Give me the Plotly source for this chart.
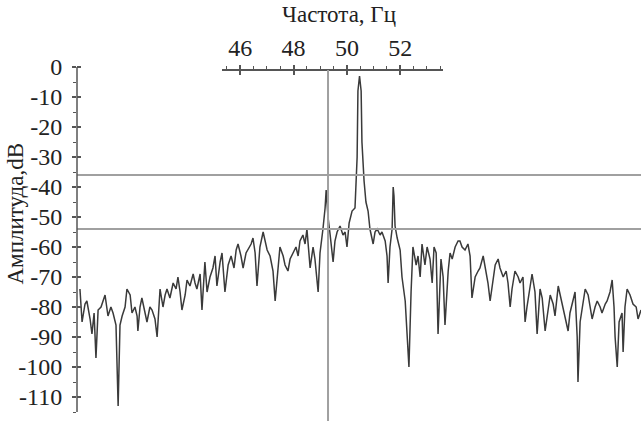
import plotly.graph_objects as go

# ---- data ----
freq_hz = [40.00, 40.08, 40.19, 40.26, 40.38, 40.45, 40.53, 40.60, 40.68, 40.79,
           40.94, 41.05, 41.16, 41.24, 41.35, 41.39, 41.43, 41.50, 41.58, 41.69,
           41.76, 41.88, 41.95, 42.06, 42.14, 42.17, 42.25, 42.32, 42.44, 42.51,
           42.62, 42.70, 42.81, 42.89, 43.00, 43.11, 43.19, 43.26, 43.37, 43.49,
           43.60, 43.67, 43.75, 43.82, 43.94, 44.01, 44.12, 44.24, 44.31, 44.38,
           44.50, 44.57, 44.68, 44.76, 44.87, 44.98, 45.06, 45.13, 45.25, 45.32,
           45.43, 45.55, 45.66, 45.77, 45.85, 45.92, 46.03, 46.11, 46.22, 46.33,
           46.41, 46.48, 46.56, 46.63, 46.74, 46.86, 46.93, 47.01, 47.12, 47.23,
           47.31, 47.42, 47.49, 47.61, 47.68, 47.79, 47.87, 47.98, 48.09, 48.17,
           48.24, 48.35, 48.43, 48.50, 48.62, 48.73, 48.80, 48.92, 48.99, 49.10,
           49.18, 49.22, 49.25, 49.29, 49.37, 49.48, 49.55, 49.63, 49.74, 49.85,
           49.93, 50.00, 50.08, 50.19, 50.30, 50.38, 50.41, 50.47, 50.53, 50.56,
           50.64, 50.71, 50.79, 50.86, 50.98, 51.05, 51.13, 51.24, 51.31, 51.43,
           51.50, 51.54, 51.61, 51.69, 51.73, 51.76, 51.80, 51.88, 51.99, 52.06,
           52.18, 52.25, 52.32, 52.40, 52.47, 52.59, 52.66, 52.74, 52.81, 52.92,
           53.00, 53.11, 53.19, 53.26, 53.34, 53.41, 53.52, 53.60, 53.67, 53.79,
           53.86, 53.94, 54.05, 54.16, 54.23, 54.31, 54.42, 54.53, 54.61, 54.68,
           54.80, 54.91, 54.98, 55.10, 55.21, 55.28, 55.36, 55.47, 55.55, 55.66,
           55.73, 55.85, 55.96, 56.03, 56.11, 56.18, 56.29, 56.41, 56.48, 56.59,
           56.67, 56.74, 56.86, 56.93, 57.04, 57.12, 57.23, 57.31, 57.42, 57.53,
           57.61, 57.72, 57.79, 57.91, 57.98, 58.09, 58.17, 58.28, 58.35, 58.47,
           58.54, 58.62, 58.65, 58.73, 58.84, 58.92, 59.03, 59.10, 59.18, 59.29,
           59.37, 59.48, 59.55, 59.67, 59.74, 59.85, 59.93, 60.00, 60.04, 60.12,
           60.19, 60.30, 60.34, 60.41, 60.49, 60.60, 60.71, 60.83, 60.90, 61.01]

amp_db = [-74, -85, -79, -78, -84, -89, -82, -97, -81, -80,
          -76, -83, -80, -82, -86, -99, -113, -86, -83, -80,
          -74, -76, -82, -80, -83, -88, -80, -77, -82, -85,
          -80, -81, -84, -90, -74, -80, -76, -74, -77, -72,
          -74, -70, -75, -81, -76, -71, -73, -69, -72, -74,
          -69, -81, -65, -75, -70, -67, -63, -73, -65, -62,
          -75, -66, -63, -67, -61, -59, -63, -67, -62, -60,
          -59, -57, -62, -73, -60, -55, -58, -61, -63, -68,
          -78, -65, -60, -63, -66, -68, -64, -62, -60, -63,
          -58, -56, -59, -54, -67, -60, -64, -75, -62, -54,
          -47, -41, -45, -50, -56, -65, -58, -55, -53, -56,
          -55, -60, -52, -48, -47, -30, -8, -3, -8, -25,
          -38, -45, -48, -54, -59, -55, -54, -56, -55, -58,
          -63, -72, -60, -54, -40, -43, -53, -57, -61, -70,
          -78, -88, -100, -75, -60, -66, -63, -70, -59, -66,
          -60, -64, -72, -60, -62, -89, -64, -70, -86, -68,
          -62, -64, -60, -58, -58, -60, -61, -59, -63, -77,
          -70, -68, -67, -63, -68, -72, -78, -70, -66, -64,
          -67, -70, -68, -72, -80, -74, -68, -70, -72, -70,
          -85, -80, -72, -69, -75, -89, -74, -77, -88, -80,
          -76, -79, -83, -73, -76, -80, -84, -88, -82, -78,
          -75, -90, -105, -85, -78, -74, -76, -80, -84, -80,
          -78, -80, -82, -79, -78, -75, -71, -80, -90, -100,
          -85, -82, -95, -80, -74, -76, -79, -80, -84, -81]

y_ticks = [0, -10, -20, -30, -40, -50, -60, -70, -80, -90, -100, -110]
y_tick_text = ["0", "-10", "-20", "-30", "-40", "-50", "-60", "-70", "-80", "-90", "-100", "-110"]
x_top_ticks = [46, 48, 50, 52]
level_lines_db = [-36, -54]
marker_freq_hz = 49.29

X_RANGE = [39.89, 61.01]
Y_RANGE = [-118, 1.67]
TOP_RANGE = [45.32, 53.60]
TOP_DOMAIN = [0.2571, 0.6489]
TOP_POS = 0.9777
Y_AXIS_BOTTOM = -115
TOP_AXIS_DB = -1

FONT = "Liberation Serif"
AX_COL = "#555555"
REF_COL = "#a0a0a0"
TXT_COL = "#222222"

fig = go.Figure()

fig.add_trace(go.Scatter(x=freq_hz, y=amp_db, mode="lines",
                         line=dict(color="#3a3a3a", width=1.5),
                         showlegend=False, hoverinfo="skip"))
# dummy traces so the extra axes are drawn
fig.add_trace(go.Scatter(x=[], y=[], xaxis="x2", yaxis="y", showlegend=False))
fig.add_trace(go.Scatter(x=[], y=[], xaxis="x3", yaxis="y", showlegend=False))
fig.add_trace(go.Scatter(x=[], y=[], xaxis="x", yaxis="y2", showlegend=False))

# reference lines
for lv in level_lines_db:
    fig.add_shape(type="line", xref="paper", yref="y", x0=0, x1=1, y0=lv, y1=lv,
                  line=dict(color=REF_COL, width=2))
fig.add_shape(type="line", xref="x", yref="y", x0=marker_freq_hz, x1=marker_freq_hz,
              y0=TOP_AXIS_DB, y1=Y_RANGE[0], line=dict(color=REF_COL, width=2))
# y axis line (0 .. -115)
fig.add_shape(type="line", xref="paper", yref="y", x0=0, x1=0, y0=y_ticks[0], y1=Y_AXIS_BOTTOM,
              line=dict(color=AX_COL, width=1.5))

yax_common = dict(range=Y_RANGE, tickvals=y_ticks, ticktext=y_tick_text,
                  showgrid=False, zeroline=False,
                  showline=False, tickcolor=AX_COL, tickwidth=1.5, ticklen=4,
                  minor=dict(dtick=5, tick0=0, ticklen=3, tickcolor=AX_COL, tickwidth=1.2, showgrid=False))
top_common = dict(range=TOP_RANGE, domain=TOP_DOMAIN, anchor="free", position=TOP_POS,
                  side="top", tickvals=x_top_ticks, showgrid=False, zeroline=False,
                  showline=True, linecolor=AX_COL, linewidth=1.5,
                  tickcolor=AX_COL, tickwidth=1.5, ticklen=4,
                  minor=dict(dtick=0.5, tick0=0, ticklen=3, tickcolor=AX_COL, tickwidth=1.2, showgrid=False))

fig.update_layout(
    width=641, height=421,
    margin=dict(l=77, r=0, t=62, b=0),
    paper_bgcolor="white", plot_bgcolor="rgba(0,0,0,0)",
    font=dict(family=FONT, color=TXT_COL, size=24),
    xaxis=dict(range=X_RANGE, visible=False, domain=[0, 1]),
    yaxis=dict(ticks="outside", showticklabels=True, ticklabelstandoff=5,
               tickfont=dict(family=FONT, size=24, color=TXT_COL), **yax_common),
    yaxis2=dict(overlaying="y", anchor="x", side="left", ticks="inside",
                showticklabels=False, **yax_common),
    xaxis2=dict(ticks="outside", showticklabels=True,
                tickfont=dict(family=FONT, size=24, color=TXT_COL), **top_common),
    xaxis3=dict(overlaying="x2", ticks="inside", showticklabels=False, **top_common),
    annotations=[
        dict(text="Частота, Гц", xref="paper", yref="paper", x=0.4645, y=1.133,
             xanchor="center", yanchor="middle", showarrow=False,
             font=dict(family=FONT, size=23, color=TXT_COL)),
        dict(text="Амплитуда,dB", xref="paper", yref="paper", x=-0.1099, y=0.578,
             xanchor="center", yanchor="middle", textangle=-90, showarrow=False,
             font=dict(family=FONT, size=23, color=TXT_COL)),
    ],
)

# let the 641x421 figure fill the browser window (no default 8px page margin)
fig.write_html("out.html", config={"displayModeBar": False},
               post_script="document.body.style.margin='0';")
